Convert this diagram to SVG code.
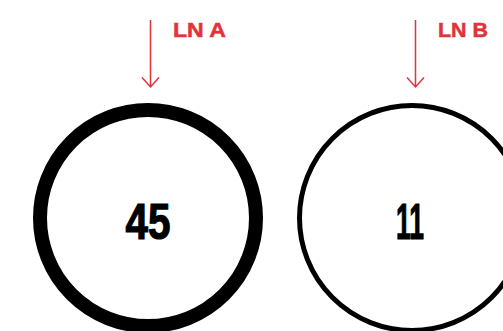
<svg xmlns="http://www.w3.org/2000/svg" width="503" height="331" viewBox="0 0 503 331">
  <style>
    .ring { fill: #ffffff; stroke: #000000; }
    .value { font-family: "Liberation Sans", Arial, sans-serif; font-weight: 700; font-size: 50px; fill: #000000; stroke: #000000; stroke-width: 1.2; text-anchor: middle; }
    .label { font-family: "Liberation Sans", Arial, sans-serif; font-weight: 700; font-size: 21px; fill: #e0333a; stroke: #e0333a; stroke-width: 0.5; }
    .pointer { fill: none; stroke: #e0333a; stroke-width: 1.5; }
  </style>
  <rect width="503" height="331" fill="#ffffff"/>

  <g id="node-a">
    <circle class="ring" cx="148" cy="218" r="108" stroke-width="14"/>
    <text class="value" x="148" y="239" textLength="45" lengthAdjust="spacingAndGlyphs">45</text>
  </g>

  <g id="node-b">
    <circle class="ring" cx="412" cy="218" r="112.5" stroke-width="5"/>
    <text class="value" x="410" y="239" textLength="28" lengthAdjust="spacingAndGlyphs">11</text>
  </g>

  <g id="label-a">
    <text class="label" x="173" y="37" textLength="53" lengthAdjust="spacingAndGlyphs">LN A</text>
  </g>
  <g id="label-b">
    <text class="label" x="438" y="37" textLength="50" lengthAdjust="spacingAndGlyphs">LN B</text>
  </g>

  <g id="connectors">
    <path class="pointer" d="M150.5 20 V87 M142 77.5 L150.5 87 L159 77.5"/>
    <path class="pointer" d="M415.5 20 V87 M407 77.5 L415.5 87 L424 77.5"/>
  </g>
</svg>
